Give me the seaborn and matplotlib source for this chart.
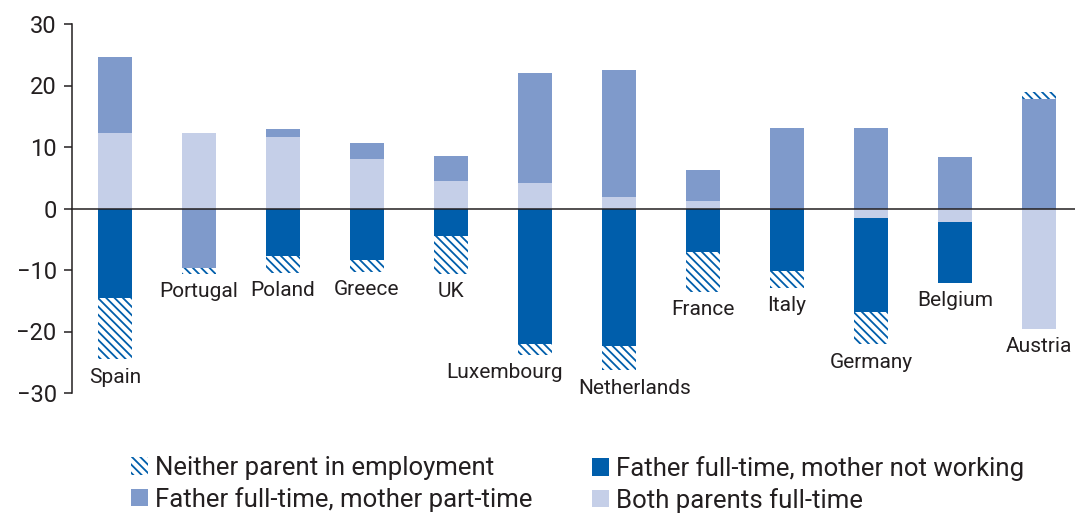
import numpy as np
import pandas as pd
import matplotlib.pyplot as plt
import seaborn as sns
from matplotlib.patches import Patch

countries = ["Spain", "Portugal", "Poland", "Greece", "UK", "Luxembourg",
             "Netherlands", "France", "Italy", "Germany", "Belgium", "Austria"]
# signed contribution of each household type
both_full_time = [12.3, 12.3, 11.6, 8.0, 4.5, 4.1, 1.8, 1.2, 0.0, -1.6, -2.2, -19.6]
mother_part_time = [12.3, -9.7, 1.3, 2.6, 4.0, 17.9, 20.7, 5.0, 13.1, 13.1, 8.4, 17.8]
mother_not_working = [-14.6, 0.0, -7.8, -8.4, -4.5, -22.0, -22.4, -7.1, -10.2, -15.2, -9.9, 0.0]
neither_employed = [-9.9, -0.9, -2.7, -1.9, -6.1, -1.8, -3.9, -6.5, -2.7, -5.3, 0.0, 1.2]

yticks = [-30, -20, -10, 0, 10, 20, 30]

DARK = "#005EAB"
MID = "#7F9ACB"
LIGHT = "#C5CFE8"
TEXT = "#231F20"
HATCH = "\\\\\\\\"

# sideways nudges (points) so neighbouring names don't collide
label_nudge = {"Luxembourg": -22, "Netherlands": 11}

sns.set_style("white")
plt.rcParams["font.family"] = ["Roboto", "DejaVu Sans"]
plt.rcParams["hatch.linewidth"] = 1.3

df = pd.DataFrame({
    "country": countries,
    "light": both_full_time,
    "mid": mother_part_time,
    "dark": mother_not_working,
    "hatch": neither_employed,
})
layers = ["light", "mid", "dark", "hatch"]
# stacks grow away from zero on each side
pos = df[layers].clip(lower=0).cumsum(axis=1)
neg = df[layers].clip(upper=0).cumsum(axis=1)

styles = {
    "light": dict(color=LIGHT, edgecolor=LIGHT),
    "mid": dict(color=MID, edgecolor=MID),
    "dark": dict(color=DARK, edgecolor=DARK),
    "hatch": dict(color="white", edgecolor=DARK, hatch=HATCH),
}

fig = plt.figure(figsize=(10.75, 5.14), dpi=100)
ax = fig.add_axes([72 / 1075, 121 / 514, 1 - 72 / 1075, 369 / 514])

# draw outermost segment first, inner ones painted over it
for layer in reversed(layers):
    for side in (pos, neg):
        sns.barplot(x=df["country"], y=side[layer], order=countries, ax=ax,
                    width=0.4, saturation=1, errorbar=None, linewidth=0,
                    **styles[layer])

# country names below the lowest point of each bar
low = neg["hatch"]
for i, name in enumerate(countries):
    ax.annotate(name, (i, low[i]), xytext=(label_nudge.get(name, 0), -6),
                textcoords="offset points", ha="center", va="top",
                fontsize=15, color=TEXT, annotation_clip=False)

ax.set_xlim(-0.512, 11.43)
ax.set_ylim(-30, 30)
ax.set_xticks(np.arange(0.5, 11, 1), labels=[])
ax.set_yticks(yticks, labels=[str(t).replace("-", "\u2212") for t in yticks])
ax.set_xlabel("")
ax.set_ylabel("")

for s in ("top", "right"):
    ax.spines[s].set_visible(False)
ax.spines["bottom"].set_position(("data", 0))
for s in ("left", "bottom"):
    ax.spines[s].set_color(TEXT)
    ax.spines[s].set_linewidth(1.1)
    ax.spines[s].set_zorder(5)
ax.tick_params(axis="x", direction="out", length=6, width=1.1, color=TEXT)
ax.tick_params(axis="y", direction="out", length=6, width=1.1, color=TEXT,
               labelsize=17, labelcolor=TEXT, pad=5, left=True)

handles = [
    Patch(facecolor="white", edgecolor=DARK, hatch=HATCH, linewidth=0,
          label="Neither parent in employment"),
    Patch(facecolor=MID, edgecolor=MID, linewidth=0,
          label="Father full-time, mother part-time"),
    Patch(facecolor=DARK, edgecolor=DARK, linewidth=0,
          label="Father full-time, mother not working"),
    Patch(facecolor=LIGHT, edgecolor=LIGHT, linewidth=0,
          label="Both parents full-time"),
]
leg_kw = dict(loc="upper left", frameon=False, fontsize=18.5,
              handlelength=0.66, handleheight=0.66, handletextpad=0.27,
              labelspacing=0.26, borderpad=0, borderaxespad=0,
              labelcolor=TEXT)
fig.legend(handles=handles[:2], bbox_to_anchor=(131 / 1075, 1 - 456 / 514), **leg_kw)
fig.legend(handles=handles[2:], bbox_to_anchor=(592 / 1075, 1 - 456 / 514), **leg_kw)

fig.savefig("out.png", dpi=100)
